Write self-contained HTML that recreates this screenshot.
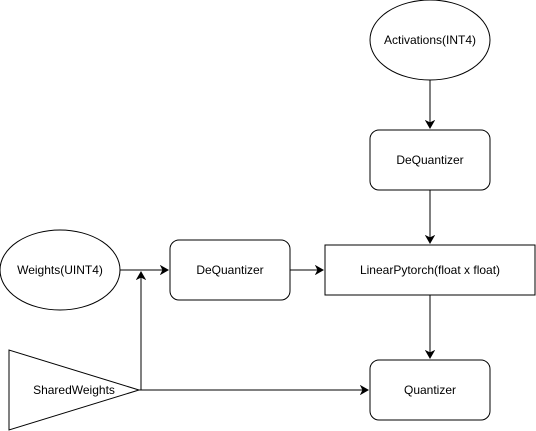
<!DOCTYPE html>
<html><head><meta charset="utf-8"><style>body{margin:0;background:#fff}svg{display:block}text{font-family:"Liberation Sans",sans-serif;font-size:12px;fill:#000}</style></head>
<body>
<svg width="536" height="431" viewBox="0 0 536 431" xmlns="http://www.w3.org/2000/svg">
<defs><marker id="a" markerWidth="10" markerHeight="10" refX="8" refY="5" orient="auto" markerUnits="userSpaceOnUse"><path d="M1,1 L8,5 L1,9 L3,5 Z" fill="#000" stroke="#000"/></marker></defs>
<g fill="#fff" stroke="#000" stroke-width="1">
<ellipse cx="430" cy="40" rx="60" ry="40"/>
<rect x="370" y="130" width="120" height="60" rx="9"/>
<ellipse cx="60" cy="270" rx="60" ry="40"/>
<rect x="170" y="240" width="120" height="60" rx="9"/>
<rect x="325" y="245" width="210" height="50"/>
<rect x="370" y="360" width="120" height="60" rx="9"/>
<polygon points="9,350 9,430 139,390"/>
</g>
<g stroke="#000" stroke-width="1" fill="none">
<line x1="430" y1="80" x2="430" y2="128" marker-end="url(#a)"/>
<line x1="430" y1="190" x2="430" y2="243" marker-end="url(#a)"/>
<line x1="120" y1="270" x2="168" y2="270" marker-end="url(#a)"/>
<line x1="290" y1="270" x2="323" y2="270" marker-end="url(#a)"/>
<line x1="430" y1="295" x2="430" y2="358" marker-end="url(#a)"/>
<line x1="139" y1="390" x2="368" y2="390" marker-end="url(#a)"/>
<polyline points="139,390 141,390 141,272" marker-end="url(#a)"/>
</g>
<g text-anchor="middle">
<text x="430" y="44">Activations(INT4)</text>
<text x="430" y="164">DeQuantizer</text>
<text x="60" y="274">Weights(UINT4)</text>
<text x="230" y="274">DeQuantizer</text>
<text x="430" y="274">LinearPytorch(float x float)</text>
<text x="430" y="394">Quantizer</text>
<text x="74" y="394">SharedWeights</text>
</g>
</svg>
</body></html>
